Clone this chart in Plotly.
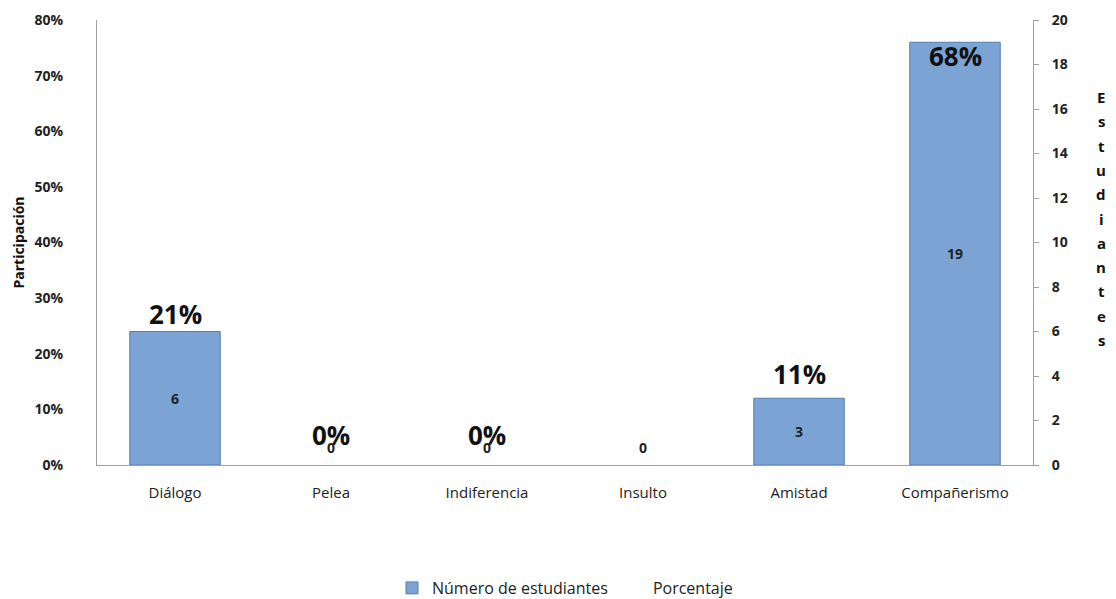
import plotly.graph_objects as go

categories = ["Diálogo", "Pelea", "Indiferencia", "Insulto", "Amistad", "Compañerismo"]
students = [6, 0, 0, 0, 3, 19]
percent = [0.21, 0.0, 0.0, 0.0, 0.11, 0.68]
percent_labels = ["21%", "0%", "0%", "", "11%", "68%"]
pct_label_shift = [18, 30, 30, 0, 24, -14]

left_ticks = [0, 0.1, 0.2, 0.3, 0.4, 0.5, 0.6, 0.7, 0.8]
right_ticks = list(range(0, 21, 2))

FONT = "Open Sans"
fig = go.Figure()

fig.add_trace(go.Bar(
    x=categories, y=students, name="Número de estudiantes", yaxis="y2",
    marker=dict(color="#7ba3d4",
                line=dict(color="#5a7fae", width=[1 if n > 0 else 0 for n in students])),
    width=0.58,
))
fig.add_trace(go.Scatter(
    x=categories, y=percent, name="Porcentaje", mode="lines",
    line=dict(color="rgba(0,0,0,0)", width=0), yaxis="y", hoverinfo="skip",
))

annotations = []
for cat, n, lab, sh in zip(categories, students, percent_labels, pct_label_shift):
    if lab:
        annotations.append(dict(
            x=cat, y=n, xref="x", yref="y2", text=f"<b>{lab}</b>", showarrow=False,
            yshift=sh, font=dict(family=FONT, size=26, color="#111"),
        ))
    annotations.append(dict(
        x=cat, y=n / 2, xref="x", yref="y2", text=f"<b>{n}</b>", showarrow=False,
        yshift=(18 if n == 0 else 0), font=dict(family=FONT, size=14, color="#222"),
    ))

# vertical stacked right axis title
title_letters = list("Estudiantes")
top_paper = (465 - 97) / 445
step = 24.3 / 445
for i, ch in enumerate(title_letters):
    annotations.append(dict(
        x=(1101 - 97) / 936, y=top_paper - i * step, xref="paper", yref="paper",
        text=f"<b>{ch}</b>", showarrow=False, xanchor="center", yanchor="middle",
        font=dict(family=FONT, size=15, color="#111"),
    ))

fig.update_layout(
    width=1116, height=599,
    margin=dict(l=97, r=1116 - 1033, t=20, b=599 - 465, autoexpand=False),
    paper_bgcolor="white", plot_bgcolor="white",
    font=dict(family=FONT, color="#222"),
    bargap=0.42,
    xaxis=dict(
        showline=True, linecolor="#a0a0a0", linewidth=1, showgrid=False,
        ticks="", tickfont=dict(family=FONT, size=15, color="#222"),
        ticklabelstandoff=14, automargin=False,
    ),
    yaxis=dict(
        range=[0, 0.8], tickvals=left_ticks, tickformat=".0%",
        showline=True, linecolor="#a0a0a0", linewidth=1, showgrid=False,
        ticks="", zeroline=False, automargin=False,
        tickfont=dict(family=FONT, size=14, color="#222", weight="bold"),
        ticklabelstandoff=30,
        title=dict(text="<b>Participación</b>", font=dict(family=FONT, size=14, color="#111"), standoff=6),
    ),
    yaxis2=dict(
        range=[0, 20], tickvals=right_ticks, overlaying="y", side="right",
        showline=True, linecolor="#a0a0a0", linewidth=1, showgrid=False,
        ticks="outside", ticklen=5, tickcolor="#a0a0a0", zeroline=False, automargin=False,
        tickfont=dict(family=FONT, size=14, color="#222", weight="bold"),
        ticklabelstandoff=10,
    ),
    legend=dict(
        orientation="h", x=0.5, xanchor="center", y=-123 / 445, yanchor="middle",
        font=dict(family=FONT, size=16, color="#222"),
    ),
    showlegend=True,
    annotations=annotations,
)

fig.write_html(
    "out.html",
    config={"displayModeBar": False},
    post_script="document.body.style.margin='0';document.body.style.overflow='hidden';",
)
